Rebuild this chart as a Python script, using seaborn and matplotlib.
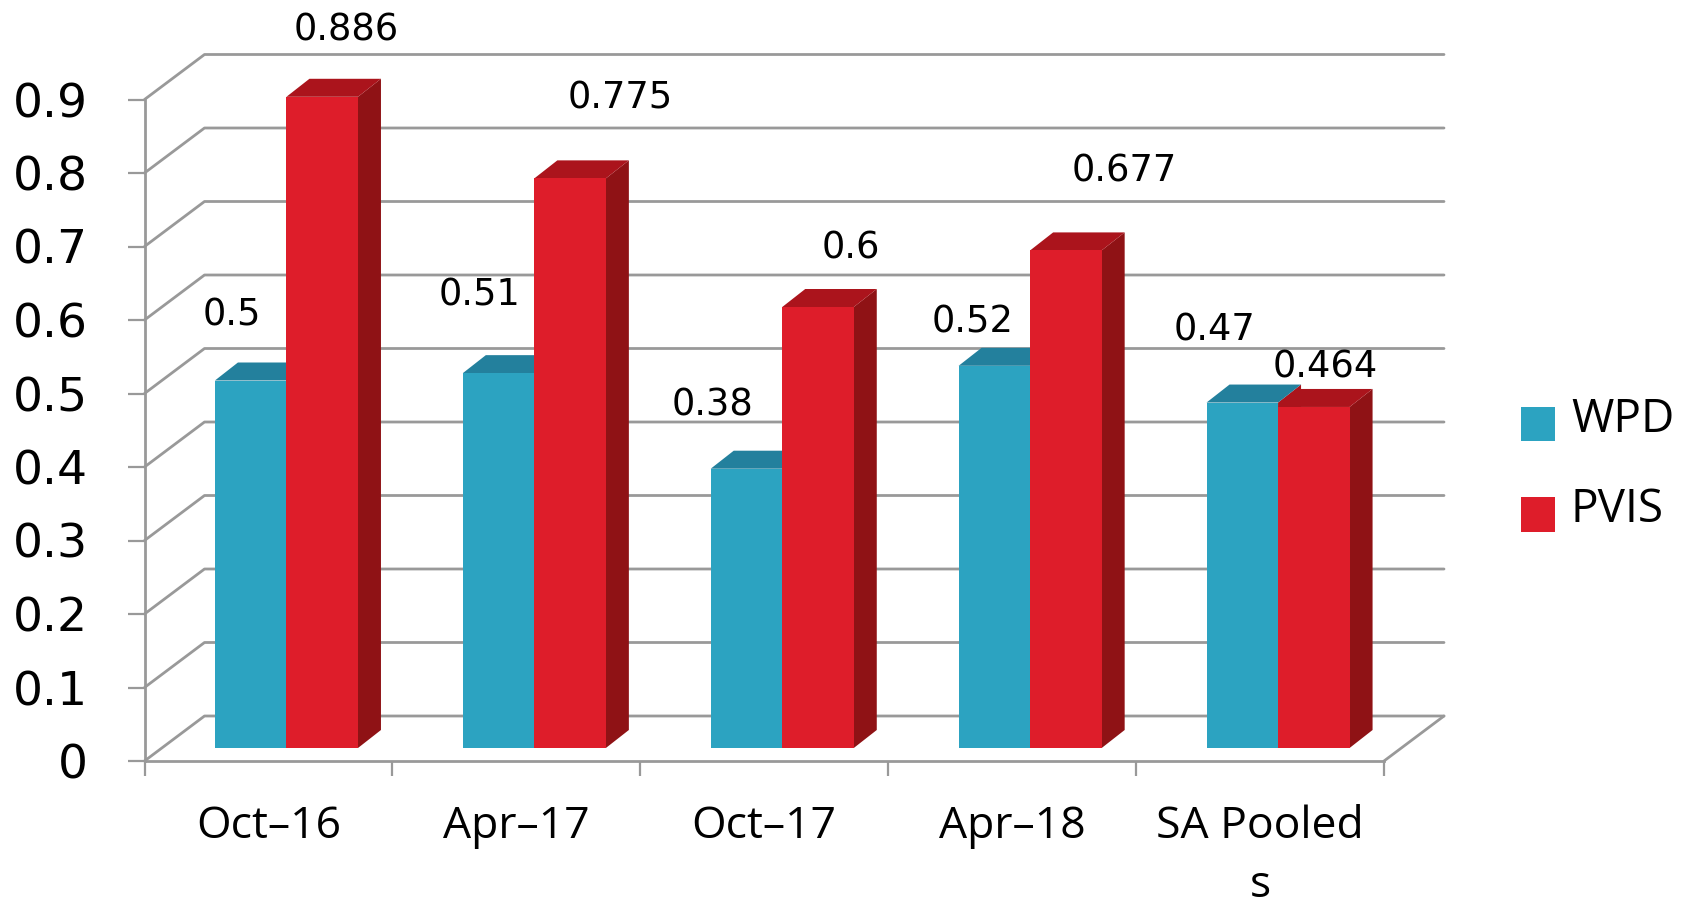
import matplotlib
matplotlib.use("Agg")
import matplotlib.pyplot as plt
import pandas as pd
import seaborn as sns
from matplotlib.patches import Patch, Polygon

categories = ["Oct–16", "Apr–17", "Oct–17", "Apr–18", "SA Pooled\ns"]
wpd = [0.5, 0.51, 0.38, 0.52, 0.47]
pvis = [0.886, 0.775, 0.6, 0.677, 0.464]
wpd_labels = ["0.5", "0.51", "0.38", "0.52", "0.47"]
pvis_labels = ["0.886", "0.775", "0.6", "0.677", "0.464"]
y_ticks = [0, 0.1, 0.2, 0.3, 0.4, 0.5, 0.6, 0.7, 0.8, 0.9]
y_tick_labels = ["0", "0.1", "0.2", "0.3", "0.4", "0.5", "0.6", "0.7", "0.8", "0.9"]

# label offsets from the bar's top centre, in pixels
wpd_offsets = [(-19, 65), (-19, 78), (-34, 64), (-22, 44), (-28, 73)]
pvis_offsets = [(24, 67), (50, 80), (33, 59), (58, 79), (11, 40)]

BLUE, BLUE_TOP = "#2CA3C1", "#23809D"
RED, RED_TOP, RED_SIDE = "#DE1D2A", "#AB141C", "#8F1215"
GRID = "#999999"

W, H = 1690, 908
sns.set_theme(style="white")
fig = plt.figure(figsize=(W / 100, H / 100), dpi=100, facecolor="white")
ax = fig.add_axes([144.5 / W, (H - 761) / H, 1239.5 / W, 661.5 / H])

df = pd.DataFrame({
    "cat": categories * 2,
    "val": wpd + pvis,
    "series": ["WPD"] * 5 + ["PVIS"] * 5,
})
sns.barplot(data=df, x="cat", y="val", hue="series", palette={"WPD": BLUE, "PVIS": RED},
            width=0.577, gap=0, dodge=True, saturation=1, legend=False, linewidth=0, ax=ax)

ax.set_xlim(-0.5, 4.5)
ax.set_ylim(0, 0.9)
ax.set_xlabel("")
ax.set_ylabel("")

PX = 5 / 1239.5          # data units per pixel, x
PY = 0.9 / 661.5         # data units per pixel, y
front_dx, front_dy = 18 * PX, 13 * PY
side_dx, side_dy = 23 * PX, 18 * PY
wall_dx, wall_dy = 60 * PX, 45 * PY

# back wall and floor lines
line_kw = dict(color=GRID, lw=2, zorder=1, clip_on=False, solid_capstyle="round")
for v in y_ticks:
    ax.plot([-0.5, -0.5 + wall_dx, 4.5 + wall_dx], [v, v + wall_dy, v + wall_dy], **line_kw)
ax.plot([4.5, 4.5 + wall_dx], [0, wall_dy], **line_kw)

# fake depth: shift the fronts and add tops and sides
for bars, col_top, col_side, z_top, z_front in [
    (ax.containers[0], BLUE_TOP, RED_TOP, 3.1, 4),
    (ax.containers[1], RED_TOP, RED_SIDE, 3, 5),
]:
    for b in bars:
        b.set_x(b.get_x() + front_dx)
        b.set_y(front_dy)
        b.set_zorder(z_front)
        b.set_clip_on(False)
        b.set_edgecolor("none")
        x0, x1 = b.get_x(), b.get_x() + b.get_width()
        y0, y1 = front_dy, front_dy + b.get_height()
        ax.add_patch(Polygon([(x1, y0), (x1 + side_dx, y0 + side_dy), (x1 + side_dx, y1 + side_dy), (x1, y1)],
                             closed=True, fc=col_side, ec="none", zorder=z_top - 0.05, clip_on=False))
        ax.add_patch(Polygon([(x0, y1), (x0 + side_dx, y1 + side_dy), (x1 + side_dx, y1 + side_dy), (x1, y1)],
                             closed=True, fc=col_top, ec="none", zorder=z_top, clip_on=False))

# data labels
for bars, texts, offs in [(ax.containers[0], wpd_labels, wpd_offsets),
                          (ax.containers[1], pvis_labels, pvis_offsets)]:
    for b, t, o in zip(bars, texts, offs):
        ax.annotate(t, xy=(b.get_x() + b.get_width() / 2, front_dy + b.get_height()),
                    xytext=o, textcoords="offset pixels", ha="center", va="center",
                    fontsize=26.5, color="black", family="DejaVu Sans", zorder=6, annotation_clip=False)

# axes
for s in ["top", "right"]:
    ax.spines[s].set_visible(False)
for s in ["left", "bottom"]:
    ax.spines[s].set_color(GRID)
    ax.spines[s].set_linewidth(2)

ax.set_yticks(y_ticks, y_tick_labels, fontsize=34, family="DejaVu Sans", color="black")
ax.tick_params(axis="y", length=12.6, width=1.6, color=GRID, pad=28, left=True)

ax.set_xticks(range(5), categories, fontsize=32, family="Open Sans", color="black")
ax.set_xticks([i - 0.5 for i in range(6)], minor=True)
ax.tick_params(axis="x", which="major", length=0, pad=31)
ax.tick_params(axis="x", which="minor", length=11, width=1.6, color=GRID, bottom=True)
for lab in ax.get_xticklabels():
    lab.set_linespacing(1.45)

# legend
handles = [Patch(fc=BLUE, ec="none", label="WPD"), Patch(fc=RED, ec="none", label="PVIS")]
leg = fig.legend(handles=handles, loc="upper left", bbox_to_anchor=(1521 / W, 1 - 405 / H),
                 frameon=False, prop={"family": "Open Sans", "size": 33},
                 handlelength=0.74, handleheight=0.78, handletextpad=0.35,
                 labelspacing=0.97, borderpad=0, borderaxespad=0)
for t in leg.get_texts():
    t.set_color("black")
    t.set_position((0, 8))

fig.savefig("out.png", dpi=100, facecolor="white")
